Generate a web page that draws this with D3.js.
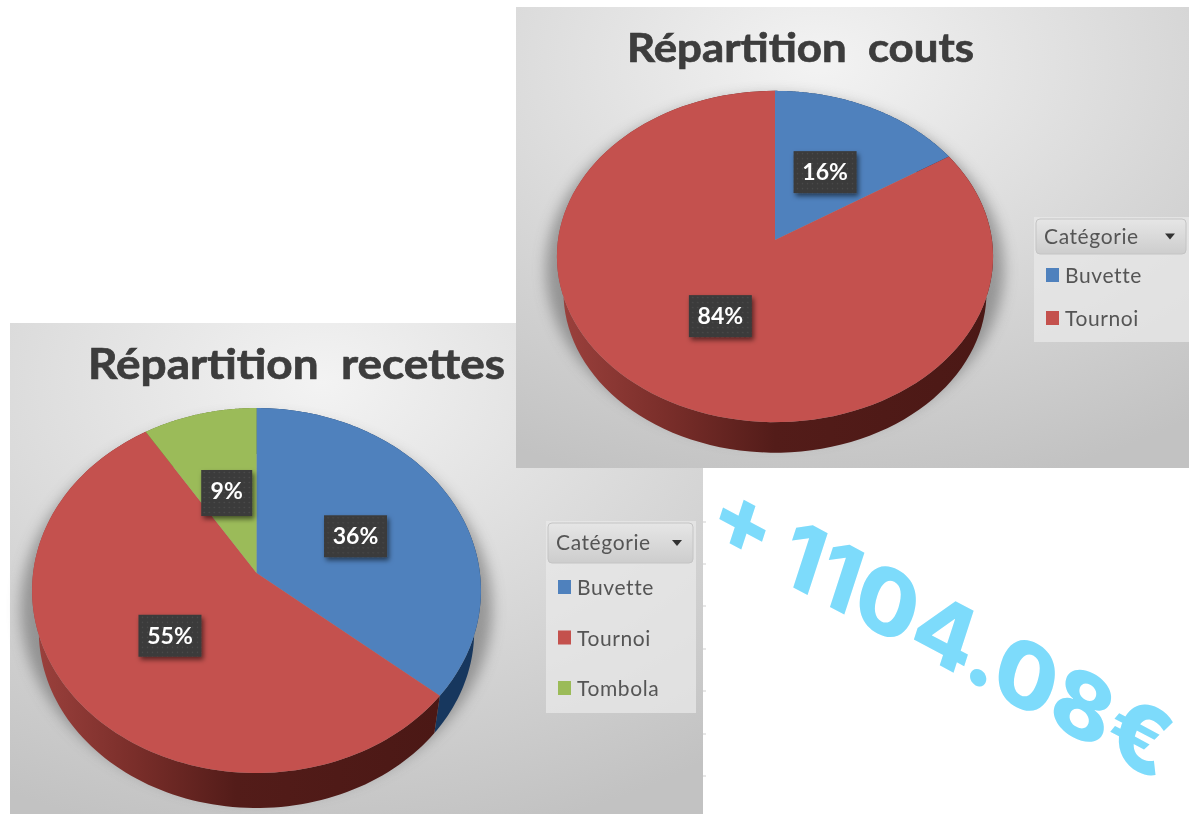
<!DOCTYPE html>
<html>
<head>
<meta charset="utf-8">
<script src="https://cdn.jsdelivr.net/npm/d3@7"></script>
<style>
  html, body { margin: 0; padding: 0; background: #fff; }
  svg { display: block; }
</style>
</head>
<body>
<script>
'use strict';

const width = 1189, height = 814;

// data
const recettesCategories = ['Buvette', 'Tournoi', 'Tombola'];
const recettesValues = [36, 55, 9];
const coutsCategories = ['Buvette', 'Tournoi'];
const coutsValues = [16, 84];
const faceColors = ['#4f81bd', '#c4514e', '#9bbb59'];
const wallColors = ['#17375e', 'url(#redWall)', '#5f7530'];
const panelTicks = [522, 564, 606, 649, 691, 734, 776];

const svg = d3.select('body').append('svg')
  .attr('width', width)
  .attr('height', height);

const defs = svg.append('defs');

const panelGrad = defs.append('radialGradient')
  .attr('id', 'panelBg')
  .attr('cx', '45%').attr('cy', '12%').attr('r', '95%');
panelGrad.append('stop').attr('offset', '0%').attr('stop-color', '#f3f3f3');
panelGrad.append('stop').attr('offset', '100%').attr('stop-color', '#c2c2c2');

const wallGrad = defs.append('linearGradient')
  .attr('id', 'redWall')
  .attr('x1', '0%').attr('x2', '100%').attr('y1', '0%').attr('y2', '0%');
wallGrad.append('stop').attr('offset', '0%').attr('stop-color', '#9c413d');
wallGrad.append('stop').attr('offset', '25%').attr('stop-color', '#7a2e2a');
wallGrad.append('stop').attr('offset', '50%').attr('stop-color', '#531c19');
wallGrad.append('stop').attr('offset', '100%').attr('stop-color', '#4b1815');

const btnGrad = defs.append('linearGradient')
  .attr('id', 'btnBg')
  .attr('x1', '0%').attr('x2', '0%').attr('y1', '0%').attr('y2', '100%');
btnGrad.append('stop').attr('offset', '0%').attr('stop-color', '#e6e6e6');
btnGrad.append('stop').attr('offset', '100%').attr('stop-color', '#cdcdcd');

const dots = defs.append('pattern')
  .attr('id', 'boxDots')
  .attr('width', 5).attr('height', 5)
  .attr('patternUnits', 'userSpaceOnUse');
dots.append('rect').attr('width', 5).attr('height', 5).attr('fill', '#3a3a3a');
dots.append('circle').attr('cx', 2.5).attr('cy', 2.5).attr('r', 0.8).attr('fill', '#4d4d4d');

defs.append('filter').attr('id', 'soft')
  .attr('x', '-10%').attr('y', '-10%').attr('width', '120%').attr('height', '120%')
  .append('feGaussianBlur').attr('stdDeviation', 0.55);

defs.append('filter').attr('id', 'pieShadow')
  .attr('x', '-20%').attr('y', '-20%').attr('width', '140%').attr('height', '140%')
  .append('feGaussianBlur').attr('stdDeviation', 7);

defs.append('filter').attr('id', 'boxShadow')
  .attr('x', '-30%').attr('y', '-30%').attr('width', '170%').attr('height', '170%')
  .append('feDropShadow')
  .attr('dx', 2).attr('dy', 3).attr('stdDeviation', 2.5)
  .attr('flood-color', '#000').attr('flood-opacity', 0.55);

const line = d3.line().x(d => d[0]).y(d => d[1]);

function drawPanel(p) {
  svg.append('rect')
    .attr('x', p.x).attr('y', p.y)
    .attr('width', p.w).attr('height', p.h)
    .attr('fill', 'url(#panelBg)');
}

function drawPie(o) {
  const g = svg.append('g');
  const slices = d3.pie().sort(null)(o.values);

  // the pie is a tilted disc, so the centre sits above the middle of the ellipse
  const project = (a, r = 1, f = 1, dy = 0) => {
    const u = Math.sin(a) * r, v = -Math.cos(a) * r;
    const w = 1 + o.k * v;
    return [o.cx + f * o.rx * u / w, o.cy + dy + f * o.ry * v / w];
  };
  const arcPts = (a0, a1, f, dy) =>
    d3.range(0, 121).map(i => project(a0 + (a1 - a0) * i / 120, 1, f, dy));

  // soft shadow behind the disc
  g.append('path')
    .attr('d', line(arcPts(0, 2 * Math.PI, 1.05, o.depth - 24)) + 'Z')
    .attr('fill', '#555')
    .attr('opacity', 0.5)
    .attr('filter', 'url(#pieShadow)');

  g.selectAll('.wall').data(slices).join('path')
    .attr('class', 'wall')
    .attr('d', d => line(arcPts(d.startAngle, d.endAngle, 1, 0)
      .concat(arcPts(d.startAngle, d.endAngle, o.shrink, o.depth).reverse())) + 'Z')
    .attr('fill', (d, i) => wallColors[i]);

  g.selectAll('.face').data(slices).join('path')
    .attr('class', 'face')
    .attr('d', d => line([project(0, 0)].concat(arcPts(d.startAngle, d.endAngle, 1, 0))) + 'Z')
    .attr('fill', (d, i) => faceColors[i]);

  const labels = g.selectAll('.lab').data(slices).join('g')
    .attr('class', 'lab')
    .attr('transform', d => {
      const p = project((d.startAngle + d.endAngle) / 2, 0.5);
      return `translate(${p[0]},${p[1]})`;
    });

  const boxW = d => String(d.value).length > 1 ? 63 : 51;
  labels.append('rect')
    .attr('x', d => -boxW(d) / 2)
    .attr('y', -20)
    .attr('width', boxW)
    .attr('height', d => String(d.value).length > 1 ? 42 : 46)
    .attr('fill', 'url(#boxDots)')
    .attr('filter', 'url(#boxShadow)');
  labels.append('text')
    .attr('text-anchor', 'middle')
    .attr('y', 9)
    .attr('font-family', 'Lato, sans-serif')
    .attr('font-weight', 700)
    .attr('font-size', 23)
    .attr('fill', '#fff')
    .attr('filter', 'url(#soft)')
    .text(d => d.value + '%');

  svg.append('text')
    .attr('x', o.title.x).attr('y', o.title.y)
    .attr('textLength', o.title.len)
    .attr('lengthAdjust', 'spacingAndGlyphs')
    .attr('font-family', 'Lato, sans-serif')
    .attr('font-weight', 700)
    .attr('font-size', o.title.size)
    .attr('fill', '#3c3c3c')
    .attr('stroke', '#3c3c3c')
    .attr('stroke-width', 0.7)
    .attr('filter', 'url(#soft)')
    .style('white-space', 'pre')
    .text(o.title.text);
}

function drawLegend(o) {
  const g = svg.append('g').attr('filter', 'url(#soft)');
  g.append('rect')
    .attr('x', o.x).attr('y', o.y)
    .attr('width', o.w).attr('height', o.h)
    .attr('fill', '#e8e8e8').attr('opacity', 0.75);
  g.append('rect')
    .attr('x', o.x + 2).attr('y', o.y + 2)
    .attr('width', o.w - 5).attr('height', o.btnH)
    .attr('rx', 4)
    .attr('fill', 'url(#btnBg)').attr('stroke', '#c4c4c4');
  g.append('text')
    .attr('x', o.x + 10).attr('y', o.y + o.btnH / 2 + 9)
    .attr('font-family', 'Lato, sans-serif')
    .attr('font-size', 21)
    .attr('letter-spacing', 0.6)
    .attr('fill', '#555')
    .text('Catégorie');
  const ax = o.x + o.w - 19, ay = o.y + o.btnH / 2 - 1;
  g.append('path')
    .attr('d', line([[ax - 5, ay], [ax + 5, ay], [ax, ay + 6]]) + 'Z')
    .attr('fill', '#333');

  const y = d3.scalePoint()
    .domain(o.categories)
    .range([o.firstY, o.lastY]);

  const rows = g.selectAll('.row').data(o.categories).join('g')
    .attr('class', 'row')
    .attr('transform', d => `translate(${o.x + 12},${y(d)})`);
  rows.append('rect')
    .attr('y', -7).attr('width', 13).attr('height', 14)
    .attr('fill', (d, i) => faceColors[i]);
  rows.append('text')
    .attr('x', 19).attr('y', 8)
    .attr('font-family', 'Lato, sans-serif')
    .attr('font-size', 21)
    .attr('letter-spacing', 0.6)
    .attr('fill', '#555')
    .text(d => d);
}

// bottom left panel, then the top right one over it
drawPanel({ x: 10, y: 323, w: 693, h: 491 });

svg.selectAll('.ptick').data(panelTicks).join('line')
  .attr('class', 'ptick')
  .attr('x1', 703).attr('x2', 706)
  .attr('y1', d => d).attr('y2', d => d)
  .attr('stroke', '#cfcfcf');

drawPie({
  values: recettesValues, cx: 256.5, cy: 573, rx: 223.4, ry: 180.8, k: -0.096,
  depth: 41, shrink: 0.97,
  title: { text: 'Répartition  recettes', x: 88, y: 379, len: 417, size: 42 }
});
drawLegend({
  categories: recettesCategories, x: 546, y: 521, w: 150, h: 192, btnH: 40,
  firstY: 587, lastY: 688
});

drawPanel({ x: 516, y: 7, w: 673, h: 461 });
drawPie({
  values: coutsValues, cx: 775, cy: 240, rx: 217, ry: 164, k: -0.0997,
  depth: 36, shrink: 0.97,
  title: { text: 'Répartition  couts', x: 627, y: 62, len: 347, size: 41 }
});
drawLegend({
  categories: coutsCategories, x: 1034, y: 217, w: 155, h: 125, btnH: 35,
  firstY: 275, lastY: 318
});

// the big rotated total
svg.append('text')
  .attr('transform', 'translate(704,540) rotate(28) skewX(10)')
  .attr('textLength', 515)
  .attr('lengthAdjust', 'spacingAndGlyphs')
  .attr('font-family', 'Inter, sans-serif')
  .attr('font-weight', 800)
  .attr('font-size', 88)
  .attr('word-spacing', -4)
  .attr('fill', '#7ddbfb')
  .text('+ 1104.08€');
</script>
</body>
</html>
